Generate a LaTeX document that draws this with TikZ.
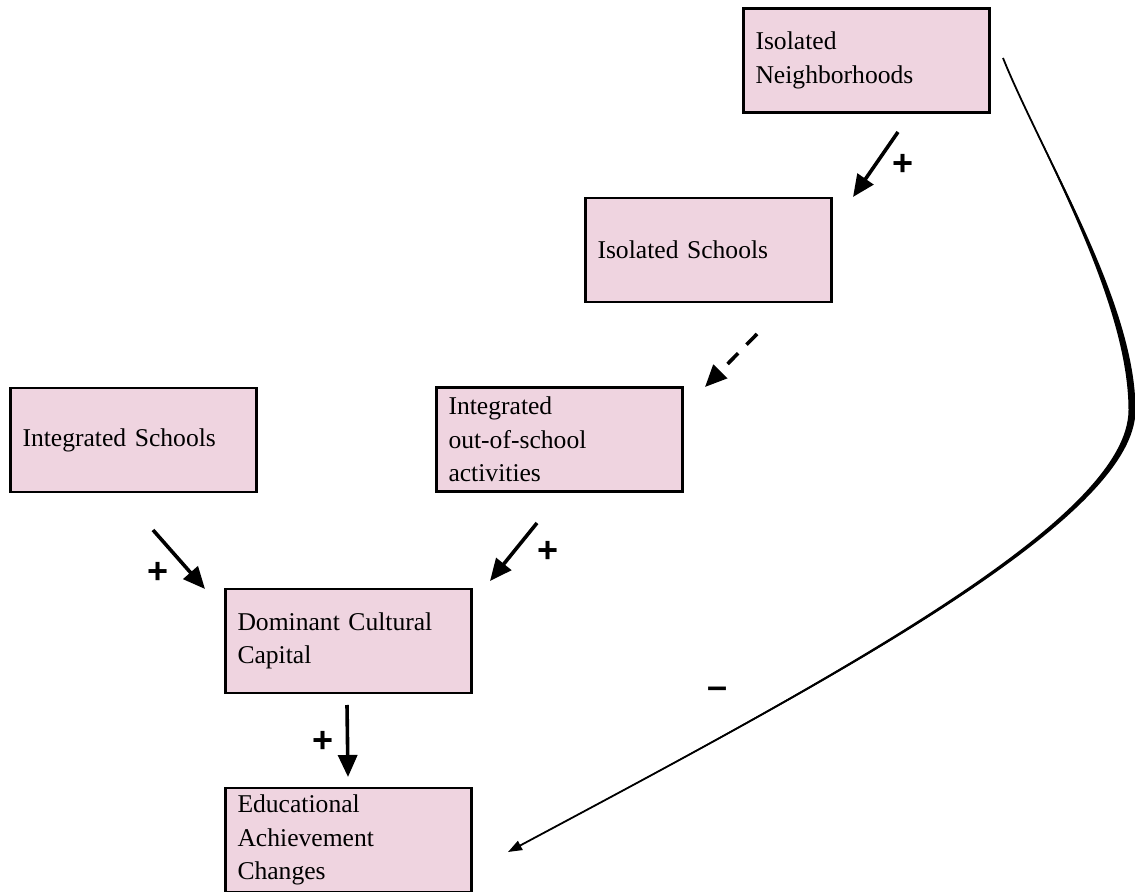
\documentclass[tikz,border=0pt]{standalone}
\usepackage{fontspec}
\setmainfont{Liberation Serif}
\setsansfont{Liberation Sans}
\usetikzlibrary{arrows.meta}
\definecolor{boxpink}{RGB}{239,212,224}

\begin{document}
\begin{tikzpicture}[x=0.5pt,y=-0.5pt,
  factor/.style={draw,line width=1.2pt,fill=boxpink,text width=111pt,inner xsep=6pt,inner ysep=0pt,
    minimum height=52pt,align=left,font=\fontsize{12.8}{16.8}\selectfont},
  link/.style={line width=1.8pt,-{Triangle[length=11pt,width=9.5pt]}},
  sign/.style={font=\fontsize{18}{18}\sffamily\bfseries,inner sep=0pt}]
\useasboundingbox (0,0) rectangle (1135,892);

\node[factor] (nbhd) at (866.5,60.5) {Isolated\\Neighborhoods};
\node[factor] (isch) at (708.5,250) {Isolated Schools};
\node[factor] (intsch) at (133.5,440) {Integrated Schools};
\node[factor] (oos) at (559.5,439.5) {Integrated\\out-of-school\\activities};
\node[factor] (dcc) at (348.5,641) {Dominant Cultural\\Capital};
\node[factor] (eac) at (348.5,840) {Educational\\Achievement\\Changes};

\coordinate (a1s) at (898,132);
\coordinate (a1e) at (853,197);
\coordinate (a2s) at (757,334);
\coordinate (a2e) at (705,387);
\coordinate (a3s) at (153,530);
\coordinate (a3e) at (205,589);
\coordinate (a4s) at (537,523);
\coordinate (a4e) at (490,581);
\coordinate (a5s) at (347,705);
\coordinate (a5e) at (348,777);
\coordinate (cs) at (1003,58);
\coordinate (ce) at (508,852);

\draw[link] (a1s) -- (a1e);
\draw[link,dash pattern=on 7.5pt off 6pt] (a2s) -- (a2e);
\draw[link] (a3s) -- (a3e);
\draw[link] (a4s) -- (a4e);
\draw[link] (a5s) -- (a5e);

\fill (cs) .. controls (1040,150) and (1135.5,300) .. (1135.5,410)
  .. controls (1135.5,520) and (830.6,681) .. (ce)
  .. controls (829.4,679) and (1128.5,520) .. (1128.5,410)
  .. controls (1128.5,300) and (1040,150) .. (cs) -- cycle;
\draw[line width=0.9pt,-{Triangle[length=7pt,width=5pt]}] (cs) .. controls (1040,150) and (1132,300) .. (1132,410)
  .. controls (1132,520) and (830,680) .. (ce);

\node[sign] (p1) at (903,165) {+};
\node[sign] (p2) at (158,573) {+};
\node[sign] (p3) at (548,552) {+};
\node[sign] (p4) at (323,742) {+};
\node[sign] (m1) at (718,693) {--};
\end{tikzpicture}
\end{document}
